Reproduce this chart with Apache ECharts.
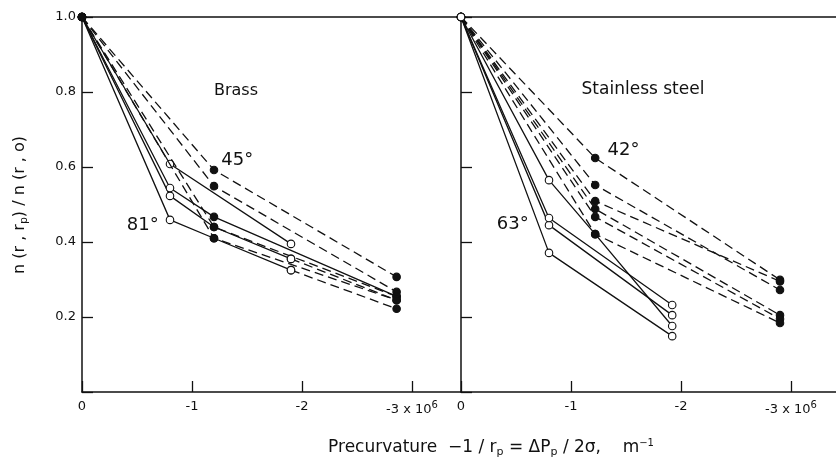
<!DOCTYPE html>
<html>
<head>
<meta charset="utf-8">
<title>Precurvature</title>
<script src="https://cdn.jsdelivr.net/npm/echarts@6/dist/echarts.min.js"></script>
<style>html,body{margin:0;background:#fff;}</style>
</head>
<body>
<div id="main" style="width:836px;height:458px;"></div>
<script>
// precurvature columns (x10^6 m^-1)
var brassX = [0, -0.8, -1.2, -1.9, -2.86];
var steelX = [0, -0.8, -1.22, -1.92, -2.9];
var xTicks = [0, -1, -2, -3];
var yTicks = [0.2, 0.4, 0.6, 0.8, 1.0];

// n(r,rp)/n(r,o) per column, null = no point
var brassSolid = [
    [1, 0.459, 0.41, 0.325, null],   // 81 deg
    [1, 0.523, 0.44, 0.355, null],
    [1, 0.544, 0.467, null, 0.255],
    [1, 0.608, null, 0.395, null]
];
var brassDashed = [
    [1, null, 0.592, null, 0.307],   // 45 deg
    [1, null, 0.549, null, 0.267],
    [1, null, 0.44, null, 0.255],
    [1, null, 0.41, null, 0.245],
    [null, null, null, 0.325, 0.222],
    [null, null, null, 0.355, 0.245]
];
var steelSolid = [
    [1, 0.371, null, 0.149, null],   // 63 deg
    [1, 0.445, null, 0.205, null],
    [1, 0.464, null, 0.232, null],
    [1, 0.565, 0.421, 0.176, null]
];
var steelDashed = [
    [1, null, 0.624, null, 0.299],   // 42 deg
    [1, null, 0.552, null, 0.272],
    [1, null, 0.509, null, 0.295],
    [1, null, 0.488, null, 0.205],
    [1, null, 0.467, null, 0.195],
    [1, null, 0.421, null, 0.184]
];

var FONT = 'DejaVu Sans';
var INK = '#111';

var myChart = echarts.init(document.getElementById('main'));

// which columns get open circles
function isOpen(panel, col) {
    if (col === 1 || col === 3) return true;
    return panel === 'steel' && col === 0;
}

function makeSeries(panel, xs, rows, dashed, labels) {
    var idx = panel === 'brass' ? 0 : 1;
    return rows.map(function (row, r) {
        var data = [];
        row.forEach(function (y, c) {
            if (y === null) return;
            var item = {
                value: [xs[c], y],
                itemStyle: { color: isOpen(panel, c) ? '#fff' : INK }
            };
            var lb = labels[r];
            if (lb && lb.col === c) {
                item.label = {
                    show: true, formatter: lb.text, position: lb.pos,
                    distance: lb.dist, offset: lb.off,
                    fontFamily: FONT, fontSize: 18, color: INK
                };
            }
            data.push(item);
        });
        return {
            type: 'line',
            xAxisIndex: idx * 2,
            yAxisIndex: idx,
            data: data,
            symbol: 'circle',
            symbolSize: 7.5,
            showAllSymbol: true,
            z: dashed ? 3 : 2,
            lineStyle: { color: INK, width: 1.3, type: dashed ? [9, 5] : 'solid' },
            itemStyle: { borderColor: INK, borderWidth: 1.1 },
            label: { show: false },
            emphasis: { disabled: true }
        };
    });
}

function xLabel(v) {
    if (v === 0) return '0';
    if (xTicks.indexOf(v) < 0) return '';
    if (v === -3) return '{a|-3 x 10}{s|6}';
    return '{a|' + v + '}';
}

function bottomAxis(grid, min) {
    return {
        type: 'value', gridIndex: grid, position: 'bottom',
        min: min, max: 0, inverse: true, minInterval: 1, maxInterval: 1,
        axisLine: { show: true, lineStyle: { color: INK, width: 1.5 } },
        axisTick: { show: true, inside: true, length: 11, customValues: xTicks,
                    lineStyle: { color: INK, width: 1.3 } },
        axisLabel: {
            show: true, margin: 8, formatter: xLabel, color: INK, customValues: xTicks,
            fontFamily: FONT, fontSize: 13,
            rich: {
                a: { fontFamily: FONT, fontSize: 13, color: INK },
                s: { fontFamily: FONT, fontSize: 10, color: INK, padding: [0, 0, 9, 0] }
            }
        },
        splitLine: { show: false }
    };
}

function topAxis(grid, min) {
    return {
        type: 'value', gridIndex: grid, position: 'top',
        min: min, max: 0, inverse: true,
        axisLine: { show: true, lineStyle: { color: INK, width: 1.5 } },
        axisTick: { show: false }, axisLabel: { show: false }, splitLine: { show: false }
    };
}

function leftAxis(grid, withLabels) {
    return {
        type: 'value', gridIndex: grid, min: 0, max: 1.0, interval: 0.2,
        axisLine: { show: true, lineStyle: { color: INK, width: 1.5 } },
        axisTick: { show: true, inside: true, length: 11, lineStyle: { color: INK, width: 1.3 } },
        axisLabel: {
            show: withLabels, margin: 6, color: INK, fontFamily: FONT, fontSize: 13,
            formatter: function (v) {
                return yTicks.indexOf(Math.round(v * 10) / 10) >= 0 && v > 0 ? v.toFixed(1) : '';
            }
        },
        splitLine: { show: false }
    };
}

var option = {
    animation: false,
    backgroundColor: '#fff',
    grid: [
        { left: 82, top: 17, width: 379, bottom: 66, outerBoundsMode: 'none' },
        // right panel runs past the window edge, like the cropped original
        { left: 461, top: 17, width: 390, bottom: 66, outerBoundsMode: 'none' }
    ],
    xAxis: [
        bottomAxis(0, -379 / 110), topAxis(0, -379 / 110),
        bottomAxis(1, -390 / 110), topAxis(1, -390 / 110)
    ],
    yAxis: [leftAxis(0, true), leftAxis(1, false)],
    graphic: [
        {
            type: 'text', x: 20, y: 205, rotation: Math.PI / 2,
            style: {
                text: '{t|n (r , r}{s|p}{t|) / n (r , o)}',
                align: 'center', verticalAlign: 'middle',
                rich: {
                    t: { fontFamily: FONT, fontSize: 16, fill: INK },
                    s: { fontFamily: FONT, fontSize: 11, fill: INK, padding: [8, 0, 0, 0] }
                }
            }
        },
        {
            type: 'text', x: 491, y: 448,
            style: {
                text: '{t|Precurvature  −1 / r}{s|p}{t| = ΔP}{s|p}{t| / 2σ,    m}{u|−1}',
                align: 'center', verticalAlign: 'middle',
                rich: {
                    t: { fontFamily: FONT, fontSize: 17, fill: INK },
                    s: { fontFamily: FONT, fontSize: 11, fill: INK, padding: [8, 0, 0, 0] },
                    u: { fontFamily: FONT, fontSize: 10, fill: INK, padding: [0, 0, 9, 0] }
                }
            }
        },
        {
            type: 'text', x: 236, y: 91,
            style: { text: 'Brass', align: 'center', verticalAlign: 'middle',
                     font: '16px "DejaVu Sans"', fill: INK }
        },
        {
            type: 'text', x: 643, y: 90,
            style: { text: 'Stainless steel', align: 'center', verticalAlign: 'middle',
                     font: '17px "DejaVu Sans"', fill: INK }
        }
    ],
    series: [].concat(
        makeSeries('brass', brassX, brassSolid, false,
            [{ col: 1, text: '81°', pos: 'left', dist: 7, off: [0, 5] }]),
        makeSeries('brass', brassX, brassDashed, true,
            [{ col: 2, text: '45°', pos: 'right', dist: 3, off: [0, -10] }]),
        makeSeries('steel', steelX, steelSolid, false,
            [{ col: 1, text: '63°', pos: 'left', dist: 16, off: [0, -29] }]),
        makeSeries('steel', steelX, steelDashed, true,
            [{ col: 2, text: '42°', pos: 'right', dist: 8, off: [0, -8] }])
    )
};

myChart.setOption(option);
</script>
</body>
</html>
